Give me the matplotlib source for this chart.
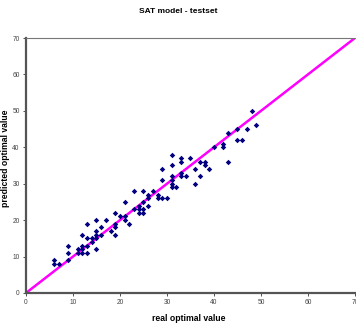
import numpy as np
import matplotlib
matplotlib.use("Agg")
import matplotlib.pyplot as plt

plt.rcParams["font.family"] = ["Liberation Sans", "DejaVu Sans"]

# real vs predicted optimal values
real = [6, 6, 7, 9, 9, 9, 11, 11, 12, 12, 12, 12, 13, 13, 13, 13, 14, 14,
        15, 15, 15, 15, 15, 16, 16, 17, 18, 19, 19, 19, 19, 20, 21, 21, 21,
        22, 23, 23, 24, 24, 24, 25, 25, 25, 25, 26, 26, 26, 27, 28, 28,
        29, 29, 29, 30, 31, 31, 31, 31, 31, 31, 32, 33, 33, 33, 33, 34,
        35, 36, 36, 37, 37, 38, 38, 39, 40, 42, 42, 43, 43, 45, 45, 46,
        47, 48, 49]
predicted = [9, 8, 8, 13, 11, 9, 12, 11, 16, 13, 12, 11, 19, 15, 13, 11, 15, 14,
             20, 17, 16, 15, 12, 18, 16, 20, 17, 22, 19, 18, 16, 21, 25, 21, 20,
             19, 28, 23, 24, 23, 22, 28, 25, 23, 22, 27, 26, 24, 28, 27, 26,
             34, 31, 26, 26, 38, 35, 32, 31, 30, 29, 29, 37, 36, 33, 32, 32,
             37, 34, 30, 36, 32, 36, 35, 34, 40, 41, 40, 44, 36, 45, 42, 42,
             45, 50, 46]
ticks = [0, 10, 20, 30, 40, 50, 60, 70]

fig = plt.figure(figsize=(3.56, 3.24), dpi=100)
ax = fig.add_axes([0.073, 0.0957, 0.924, 0.787])

ax.plot([0, 70], [0, 70], color="#ff00ff", lw=1.8, zorder=2)
ax.plot(real, predicted, "D", color="#000080", ms=2.8, mew=0, zorder=3)

ax.set_xlim(0, 70)
ax.set_ylim(0, 70)
ax.set_xticks(ticks)
ax.set_yticks(ticks)
ax.tick_params(labelsize=4.8, labelcolor="#444444", length=2.5, width=0.6,
               color="#333333", pad=2)

for side in ["left", "bottom"]:
    ax.spines[side].set_linewidth(1.6)
    ax.spines[side].set_color("#555555")
ax.spines["top"].set_linewidth(0.8)
ax.spines["top"].set_color("#777777")
ax.spines["right"].set_visible(False)

ax.set_xlabel("real optimal value", fontsize=6.2, fontweight="bold")
ax.set_ylabel("predicted optimal value", fontsize=6.2, fontweight="bold")
ax.xaxis.set_label_coords(0.495, -0.082)
ax.yaxis.set_label_coords(-0.05, 0.53)
fig.text(0.5, 0.966, "SAT model - testset", ha="center", va="center",
         fontsize=6, fontweight="bold")

fig.savefig("out.png", dpi=100)
